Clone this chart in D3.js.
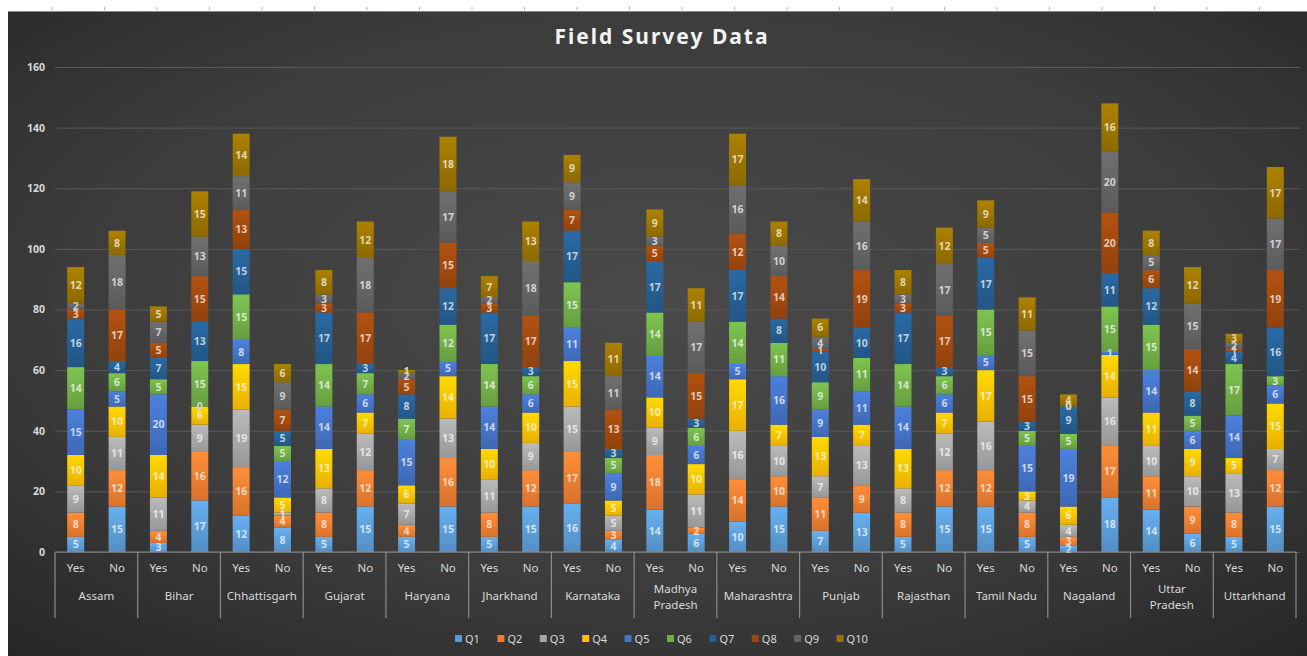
<!DOCTYPE html>
<html lang="en">
<head>
<meta charset="utf-8">
<title>Field Survey Data</title>
<script src="https://d3js.org/d3.v7.min.js"></script>
<style>
  body { margin: 0; background: #ffffff; }
  svg { display: block; }
</style>
</head>
<body>
<div id="chart"></div>
<script>
// states along the axis, each has a Yes and a No bar
var states = ["Assam", "Bihar", "Chhattisgarh", "Gujarat", "Haryana", "Jharkhand", "Karnataka",
              "Madhya Pradesh", "Maharashtra", "Punjab", "Rajasthan", "Tamil Nadu", "Nagaland",
              "Uttar Pradesh", "Uttarkhand"];
var answers = ["Yes", "No"];
var questions = ["Q1", "Q2", "Q3", "Q4", "Q5", "Q6", "Q7", "Q8", "Q9", "Q10"];
var yTicks = [0, 20, 40, 60, 80, 100, 120, 140, 160];

// one value per bar: Assam Yes, Assam No, Bihar Yes, Bihar No, ...
var q1  = [5,15,3,17,12,8,5,15,5,15,5,15,16,4,14,6,10,15,7,13,5,15,15,5,2,18,14,6,5,15];
var q2  = [8,12,4,16,16,4,8,12,4,16,8,12,17,3,18,2,14,10,11,9,8,12,12,8,3,17,11,9,8,12];
var q3  = [9,11,11,9,19,1,8,12,7,13,11,9,15,5,9,11,16,10,7,13,8,12,16,4,4,16,10,10,13,7];
var q4  = [10,10,14,6,15,5,13,7,6,14,10,10,15,5,10,10,17,7,13,7,13,7,17,3,6,14,11,9,5,15];
var q5  = [15,5,20,0,8,12,14,6,15,5,14,6,11,9,14,6,5,16,9,11,14,6,5,15,19,1,14,6,14,6];
var q6  = [14,6,5,15,15,5,14,7,7,12,14,6,15,5,14,6,14,11,9,11,14,6,15,5,5,15,15,5,17,3];
var q7  = [16,4,7,13,15,5,17,3,8,12,17,3,17,3,17,3,17,8,10,10,17,3,17,3,9,11,12,8,4,16];
var q8  = [3,17,5,15,13,7,3,17,5,15,3,17,7,13,5,15,12,14,1,19,3,17,5,15,0,20,6,14,1,19];
var q9  = [2,18,7,13,11,9,3,18,2,17,2,18,9,11,3,17,16,10,4,16,3,17,5,15,0,20,5,15,2,17];
var q10 = [12,8,5,15,14,6,8,12,1,18,7,13,9,11,9,11,17,8,6,14,8,12,9,11,4,16,8,12,3,17];

var series = [q1, q2, q3, q4, q5, q6, q7, q8, q9, q10];
var colors = ["#5b9bd5", "#ed7d31", "#a5a5a5", "#ffc000", "#4472c4",
              "#70ad47", "#255e91", "#9e480e", "#636363", "#997300"];

var width = 1307, height = 656;
var margin = { left: 55, right: 11, top: 67, bottom: 104 };

// build rows for the stack
var rows = [];
states.forEach(function(s, i) {
  answers.forEach(function(a, j) {
    var row = { state: s, answer: a };
    questions.forEach(function(q, k) { row[q] = series[k][i * 2 + j]; });
    rows.push(row);
  });
});

var stacked = d3.stack().keys(questions)(rows);

var svg = d3.select("#chart").append("svg")
  .attr("width", width)
  .attr("height", height);

var defs = svg.append("defs");

var bg = defs.append("radialGradient").attr("id", "bg")
  .attr("cx", "50%").attr("cy", "45%").attr("r", "75%");
bg.append("stop").attr("offset", "0%").attr("stop-color", "#4a4a4a");
bg.append("stop").attr("offset", "60%").attr("stop-color", "#3c3c3c");
bg.append("stop").attr("offset", "100%").attr("stop-color", "#262626");

colors.forEach(function(c, i) {
  var g = defs.append("linearGradient").attr("id", "g" + i)
    .attr("x1", 0).attr("y1", 0).attr("x2", 0).attr("y2", 1);
  g.append("stop").attr("offset", "0%").attr("stop-color", d3.color(c).brighter(0.35));
  g.append("stop").attr("offset", "100%").attr("stop-color", d3.color(c).darker(0.25));
});

// white ruler strip at top
svg.append("rect").attr("x", 0).attr("y", 0).attr("width", width).attr("height", 12).attr("fill", "#ffffff");
svg.append("g").selectAll("line")
  .data(d3.range(52, width, 52.5))
  .join("line")
  .attr("x1", function(d) { return d; }).attr("x2", function(d) { return d; })
  .attr("y1", 7).attr("y2", 10)
  .attr("stroke", "#b0b0b0");

// chart background
svg.append("rect")
  .attr("x", 8).attr("y", 11)
  .attr("width", width - 8).attr("height", height - 11)
  .attr("fill", "url(#bg)");
svg.append("line").attr("x1", 8).attr("x2", width).attr("y1", 11.5).attr("y2", 11.5)
  .attr("stroke", "#8a8a8a");

// title
svg.append("text")
  .attr("x", 662).attr("y", 44)
  .attr("text-anchor", "middle")
  .attr("font-family", "Noto Sans, sans-serif")
  .attr("font-weight", "bold")
  .attr("font-size", 21)
  .attr("letter-spacing", 2)
  .attr("fill", "#f2f2f2")
  .text("Field Survey Data");

var x = d3.scaleBand()
  .domain(states)
  .range([margin.left, width - margin.right]);

var xInner = d3.scaleBand()
  .domain(answers)
  .range([0, x.bandwidth()])
  .paddingInner(0.59)
  .paddingOuter(0.295);

var y = d3.scaleLinear()
  .domain([0, 160])
  .range([height - margin.bottom, margin.top]);

// gridlines and y labels
var yAxis = svg.append("g")
  .attr("transform", "translate(" + margin.left + ",0)")
  .call(d3.axisLeft(y).tickValues(yTicks).tickSize(-(width - margin.left - 7)).tickPadding(10));
yAxis.select(".domain").remove();
yAxis.selectAll(".tick line").attr("stroke", "#585858");
yAxis.selectAll(".tick text")
  .attr("fill", "#d9d9d9")
  .attr("font-family", "Noto Sans, sans-serif")
  .attr("font-weight", "bold")
  .attr("font-size", 10.5);

// bars
var layers = svg.append("g").selectAll("g")
  .data(stacked)
  .join("g")
  .attr("fill", function(d, i) { return "url(#g" + i + ")"; });

layers.selectAll("rect")
  .data(function(d) { return d; })
  .join("rect")
  .attr("x", function(d) { return x(d.data.state) + xInner(d.data.answer); })
  .attr("y", function(d) { return y(d[1]); })
  .attr("width", xInner.bandwidth())
  .attr("height", function(d) { return y(d[0]) - y(d[1]); });

// data labels
var labels = svg.append("g")
  .attr("font-family", "Noto Sans, sans-serif")
  .attr("font-weight", "bold")
  .attr("font-size", 10.5)
  .attr("text-anchor", "middle");

stacked.forEach(function(layer, i) {
  labels.append("g")
    .attr("fill", d3.interpolateRgb(colors[i], "#ffffff")(0.7))
    .selectAll("text")
    .data(layer)
    .join("text")
    .attr("x", function(d) { return x(d.data.state) + xInner(d.data.answer) + xInner.bandwidth() / 2; })
    .attr("y", function(d) { return (y(d[0]) + y(d[1])) / 2; })
    .attr("dy", "0.36em")
    .text(function(d) { return d[1] - d[0]; });
});

// x axis: baseline, group separators, Yes/No and state labels
var axisY = y(0);
var axis = svg.append("g")
  .attr("stroke", "#8c8c8c")
  .attr("stroke-width", 1.2);
axis.append("line")
  .attr("x1", margin.left).attr("x2", width - margin.right)
  .attr("y1", axisY).attr("y2", axisY);
axis.selectAll("line.sep")
  .data(states.concat(["end"]))
  .join("line")
  .attr("class", "sep")
  .attr("x1", function(d, i) { return margin.left + i * x.step(); })
  .attr("x2", function(d, i) { return margin.left + i * x.step(); })
  .attr("y1", axisY).attr("y2", axisY + 66);

var ticks = svg.append("g")
  .attr("font-family", "Noto Sans, sans-serif")
  .attr("font-size", 11.5)
  .attr("fill", "#d9d9d9")
  .attr("text-anchor", "middle");

states.forEach(function(s) {
  answers.forEach(function(a) {
    ticks.append("text")
      .attr("x", x(s) + xInner(a) + xInner.bandwidth() / 2)
      .attr("y", axisY + 20)
      .text(a);
  });
  var parts = s.indexOf(" ") > 0 && s !== "Tamil Nadu" ? s.split(" ") : [s];
  parts.forEach(function(p, k) {
    ticks.append("text")
      .attr("x", x(s) + x.bandwidth() / 2)
      .attr("y", axisY + (parts.length > 1 ? 41 + k * 16 : 48))
      .text(p);
  });
});

// legend
var legend = svg.append("g")
  .attr("transform", "translate(455," + 639 + ")")
  .attr("font-family", "Noto Sans, sans-serif")
  .attr("font-size", 11)
  .attr("fill", "#d9d9d9");

var item = legend.selectAll("g")
  .data(questions)
  .join("g")
  .attr("transform", function(d, i) { return "translate(" + (i * 42.4) + ",0)"; });
item.append("rect")
  .attr("x", 0).attr("y", -4)
  .attr("width", 7).attr("height", 7)
  .attr("fill", function(d, i) { return colors[i]; });
item.append("text")
  .attr("x", 10).attr("dy", "0.35em")
  .text(function(d) { return d; });
</script>
</body>
</html>
